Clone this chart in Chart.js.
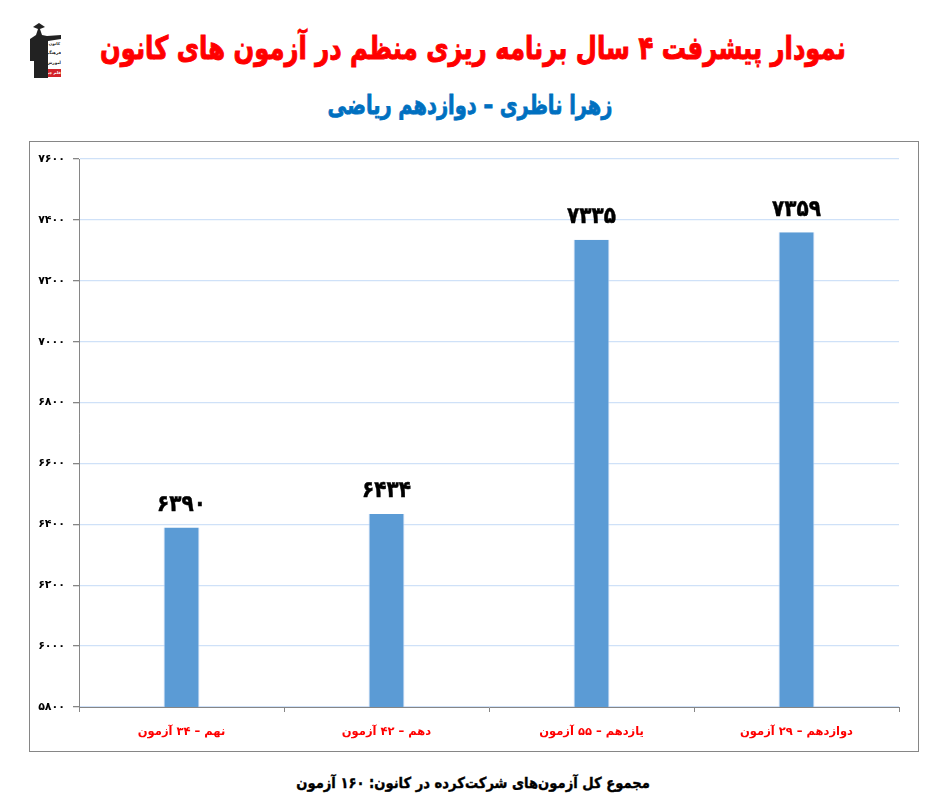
<!DOCTYPE html>
<html lang="fa">
<head>
<meta charset="utf-8">
<script src="https://cdn.jsdelivr.net/npm/chart.js@4"></script>
<style>
  html, body { margin: 0; padding: 0; background: #fff; }
  body { width: 938px; height: 809px; position: relative; overflow: hidden; font-family: "DejaVu Sans", sans-serif; font-weight: bold; }
  .txt { position: absolute; direction: rtl; white-space: nowrap; text-align: center; }
  #title { left: -77px; width: 1100px; top: 29px; font-size: 32px; color: #ff0000; -webkit-text-stroke: 1px #ff0000; transform: scaleX(0.759); }
  #subtitle { left: 270px; width: 400px; top: 90px; font-size: 26px; color: #0070c0; -webkit-text-stroke: 0.8px #0070c0; transform: scaleX(0.745); }
  #footer { left: 200px; width: 546px; top: 774px; font-size: 15px; color: #000; -webkit-text-stroke: 0.4px #000; transform: scaleX(0.875); }
  #box { position: absolute; left: 29px; top: 141px; width: 888px; height: 609px; border: 1px solid #868686; }
  #logo { position: absolute; left: 29px; top: 23px; width: 32px; height: 56px; }
  #logo .t { position: absolute; left: 19px; width: 13px; font-size: 4px; line-height: 8px; text-align: center; direction: rtl; white-space: nowrap; color: #222; overflow: hidden; }
</style>
</head>
<body>
<div id="logo">
  <svg width="32" height="56" style="position:absolute;left:0;top:0">
    <path d="M4 4 L10 0 L16 4 L11 6 L13 12 L18 13 L32 12 L32 16 L19 18 L19 55 L5 55 L5 38 L1 38 L1 16 L7 12 L9 6 Z" fill="#222"/>
  </svg>
  <div class="t" style="top:17px">کانون</div>
  <div class="t" style="top:26px">فرهنگی</div>
  <div class="t" style="top:36px">آموزش</div>
  <div class="t" style="top:46px;background:#d2232a;color:#fff">قلم چی</div>
</div>
<div class="txt" id="title">نمودار پیشرفت ۴ سال برنامه ریزی منظم در آزمون های کانون</div>
<div class="txt" id="subtitle">زهرا ناظری – دوازدهم ریاضی</div>
<div class="txt" id="footer">مجموع کل آزمون‌های شرکت‌کرده در کانون:  ۱۶۰ آزمون</div>
<div id="box"><canvas id="myChart" width="888" height="609"></canvas></div>
<script>
const categories = ['نهم – ۳۴ آزمون', 'دهم – ۴۲ آزمون', 'یازدهم – ۵۵ آزمون', 'دوازدهم – ۲۹ آزمون'];
const valores = [6390, 6434, 7335, 7359];
const yMin = 5800;
const yMax = 7600;
const yStep = 200;

// numeros en persa para ticks y etiquetas
const persa = (n) => String(n).replace(/[0-9]/g, (d) => '۰۱۲۳۴۵۶۷۸۹'[d]);

const etiquetas = {
  id: 'etiquetas',
  afterDatasetsDraw(chart) {
    const c = chart.ctx;
    const meta = chart.getDatasetMeta(0);
    c.font = 'bold 23px "DejaVu Sans"';
    c.fillStyle = '#000';
    c.strokeStyle = '#000';
    c.lineWidth = 0.5;
    c.textAlign = 'center';
    c.textBaseline = 'bottom';
    meta.data.forEach((bar, i) => {
      c.save();
      c.translate(bar.x, bar.y - 11);
      c.scale(0.87, 1);
      c.fillText(persa(valores[i]), 0, 0);
      c.strokeText(persa(valores[i]), 0, 0);
      c.restore();
    });
  }
};

const ctx = document.getElementById('myChart').getContext('2d');
const myChart = new Chart(ctx, {
  type: 'bar',
  data: {
    labels: categories,
    datasets: [{
      label: 'رتبه',
      data: valores,
      backgroundColor: '#5b9bd5',
      borderColor: '#c9dcf5',
      borderWidth: { left: 1, right: 1, top: 0, bottom: 0 },
      barPercentage: 0.175,
      categoryPercentage: 1
    }]
  },
  options: {
    responsive: false,
    animation: false,
    layout: { padding: { top: 17, right: 19, left: 0, bottom: 0 } },
    plugins: { legend: { display: false }, tooltip: { enabled: false } },
    scales: {
      y: {
        min: yMin,
        max: yMax,
        ticks: {
          stepSize: yStep,
          padding: 8,
          color: '#000',
          font: { family: '"DejaVu Sans"', weight: 'bold', size: 11 },
          callback: (v) => persa(v)
        },
        grid: { color: '#cfe1f8', lineWidth: 1.3, tickColor: '#868686', tickLength: 6 },
        border: { color: '#868686', width: 1 },
        afterFit: (s) => { s.width = 49; }
      },
      x: {
        ticks: {
          padding: 13,
          color: '#ff0000',
          maxRotation: 0,
          font: { family: '"DejaVu Sans"', weight: 'bold', size: 11.5 }
        },
        grid: { drawOnChartArea: false, tickColor: '#868686', tickLength: 5 },
        border: { color: '#868686', width: 1 },
        afterFit: (s) => { s.height = 44; }
      }
    }
  },
  plugins: [etiquetas]
});
</script>
</body>
</html>
